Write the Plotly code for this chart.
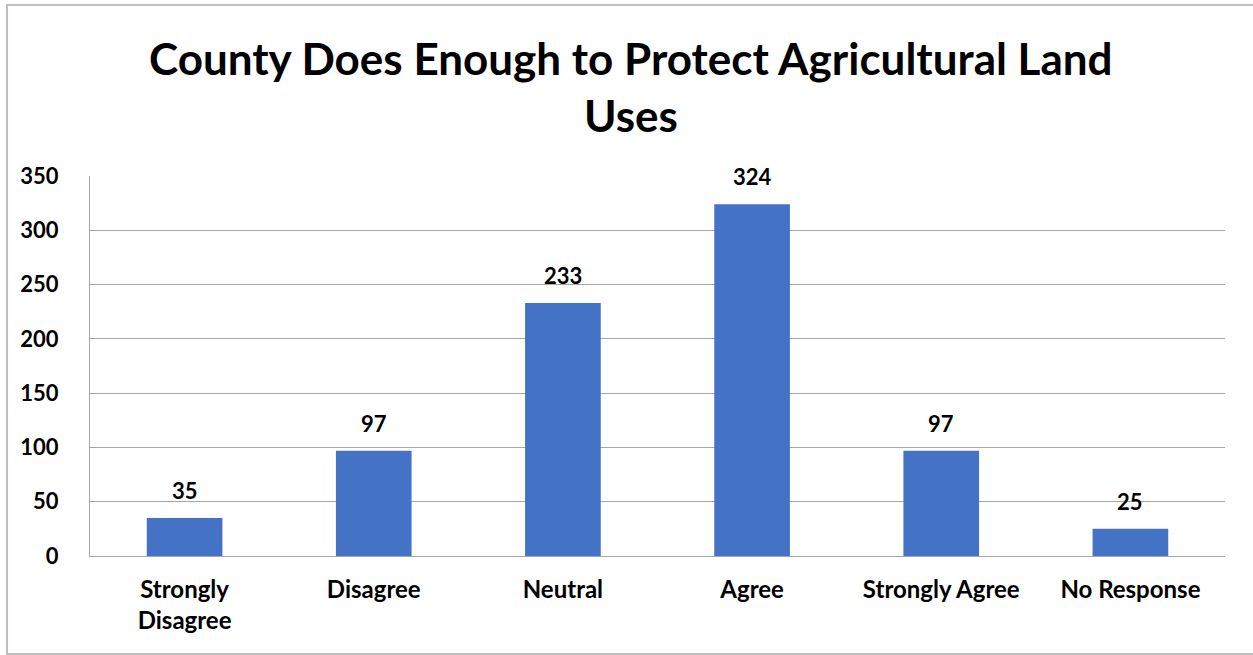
import plotly.graph_objects as go

categories = ["Strongly<br>Disagree", "Disagree", "Neutral", "Agree", "Strongly Agree", "No Response"]
counts = [35, 97, 233, 324, 97, 25]
y_ticks = [0, 50, 100, 150, 200, 250, 300, 350]
title_lines = ["County Does Enough to Protect Agricultural Land", "Uses"]

FONT = "Lato"
BAR_COLOR = "#4472C4"
GRID = "#A6A6A6"

fig = go.Figure(
    go.Bar(
        x=categories,
        y=counts,
        marker=dict(color=BAR_COLOR, line=dict(width=0)),
        width=0.4,
        hoverinfo="x+y",
    )
)

# value labels above each bar
for cat, val in zip(categories, counts):
    fig.add_annotation(
        x=cat, y=val, text=f"<b>{val}</b>", showarrow=False,
        yanchor="bottom", yshift=12,
        font=dict(family=FONT, size=22, color="#000000"),
    )

# two-line chart title, placed in plot-relative coordinates
for line, ypos in zip(title_lines, [1.311, 1.161]):
    fig.add_annotation(
        xref="paper", yref="paper", x=0.4767, y=ypos,
        xanchor="center", yanchor="middle", showarrow=False,
        text=f"<b>{line}</b>",
        font=dict(family=FONT, size=44, color="#000000"),
    )

# outer chart frame
fig.add_shape(
    type="rect", xref="paper", yref="paper",
    x0=-0.0731, x1=1.04, y0=-0.258, y1=1.45,
    line=dict(color="#BFBFBF", width=2), fillcolor="rgba(0,0,0,0)",
    layer="below",
)

fig.update_layout(
    width=1253, height=655,
    margin=dict(l=90, r=28, t=176, b=99),
    paper_bgcolor="white", plot_bgcolor="white",
    showlegend=False,
    bargap=0.6,
    xaxis=dict(
        showgrid=False, showline=True, linecolor=GRID, linewidth=1,
        tickfont=dict(family=FONT, size=24, color="#000000"),
        ticks="", ticklabelstandoff=12,
        tickprefix="<b>", ticksuffix="</b>",
    ),
    yaxis=dict(
        range=[0, 350], tickvals=y_ticks,
        ticktext=[f"<b>{v}</b>" for v in y_ticks],
        showgrid=True, gridcolor=GRID, gridwidth=1,
        showline=True, linecolor=GRID, linewidth=1,
        zeroline=False,
        tickfont=dict(family=FONT, size=22, color="#000000"),
        ticks="", ticklabelstandoff=26,
    ),
)

fig.write_html("out.html")
